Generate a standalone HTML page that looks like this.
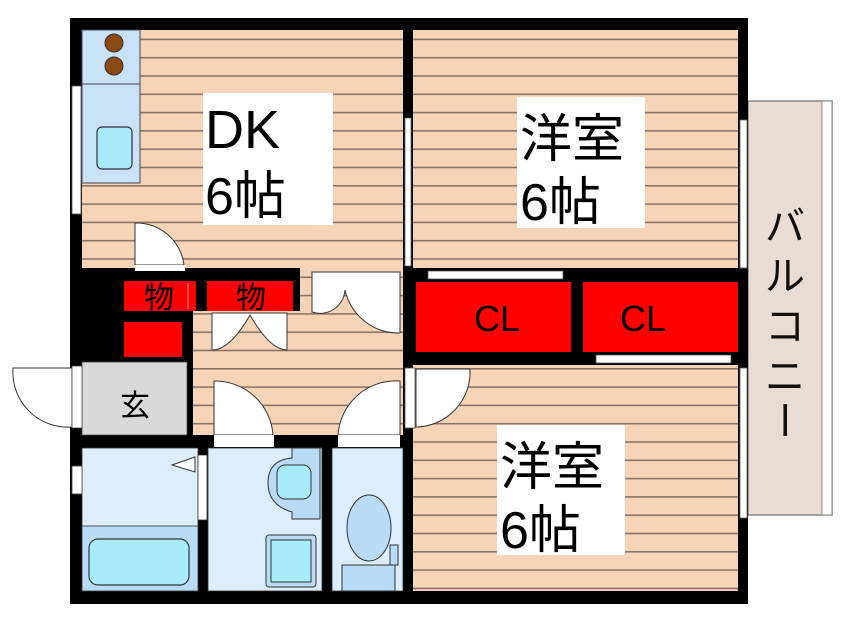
<!DOCTYPE html>
<html><head><meta charset="utf-8"><style>
body{margin:0;background:#fff;width:846px;height:634px;overflow:hidden}
svg text{font-family:"Liberation Sans","Noto Sans CJK JP",sans-serif}
</style></head><body>
<svg width="846" height="634" viewBox="0 0 846 634" xmlns="http://www.w3.org/2000/svg">
<defs>
<pattern id="wood" x="0" y="2" width="10" height="18.3" patternUnits="userSpaceOnUse">
<rect width="10" height="18.3" fill="#f6d4b8"/>
<rect y="0" width="10" height="1.6" fill="#8a7468"/>
</pattern>
</defs>
<rect x="748" y="101" width="84" height="414" fill="#e9ddd3" stroke="#888" stroke-width="1.5"/>
<rect x="822" y="101" width="10" height="414" fill="#fff" stroke="#888" stroke-width="1"/>
<rect x="70" y="18" width="678" height="586" fill="#000"/>
<rect x="82" y="30" width="321" height="238" fill="url(#wood)"/>
<rect x="413" y="30" width="325" height="238" fill="url(#wood)"/>
<rect x="413" y="365" width="325" height="226" fill="url(#wood)"/>
<rect x="193" y="311" width="210" height="124" fill="url(#wood)"/>
<rect x="300" y="268" width="103" height="50" fill="url(#wood)"/>
<rect x="82" y="30" width="58" height="153" fill="#c9e2f6" stroke="#445" stroke-width="1"/>
<line x1="82" y1="84" x2="140" y2="84" stroke="#445"/>
<circle cx="114" cy="43" r="9" fill="#8b4a13" stroke="#333"/>
<circle cx="114" cy="66" r="9" fill="#8b4a13" stroke="#333"/>
<rect x="97" y="127" width="35" height="42" rx="5" fill="#a8ecfb" stroke="#334" stroke-width="1.2"/>
<rect x="72" y="86" width="9" height="128" fill="#fff" stroke="#555" stroke-width="0.8"/>
<rect x="405" y="118" width="6" height="148" fill="#fff" stroke="#666" stroke-width="0.8"/>
<rect x="203" y="93" width="130" height="132" fill="#fff"/>
<text x="205" y="148" font-size="54" fill="#000">DK</text>
<text x="205" y="214" font-size="52" fill="#000">6帖</text>
<rect x="517" y="97" width="128" height="131" fill="#fff"/>
<text x="520" y="157" font-size="52">洋室</text>
<text x="520" y="220" font-size="52">6帖</text>
<rect x="497" y="425" width="128" height="130" fill="#fff"/>
<text x="500" y="485" font-size="52">洋室</text>
<text x="500" y="548" font-size="52">6帖</text>
<path d="M135 265 V223 A48 48 0 0 1 184 265 Z" fill="#fff" stroke="#333"/>
<rect x="135" y="265" width="50" height="6" fill="#fff"/>
<rect x="124" y="281" width="72" height="30" fill="#f00"/>
<line x1="188" y1="283" x2="188" y2="309" stroke="#f99"/>
<rect x="207" y="281" width="86" height="30" fill="#f00"/>
<text x="159" y="308" font-size="30" text-anchor="middle">物</text>
<text x="251" y="308" font-size="30" text-anchor="middle">物</text>
<rect x="124" y="322" width="58" height="35" fill="#f00"/>
<path d="M212 313 H287 V350 Q270 350 250 315 Q230 350 212 350 Z" fill="#fff" stroke="#333"/>
<path d="M312 272 H400 V333 A55 55 0 0 1 345 290 A25 25 0 0 1 312 312 Z" fill="#fff" stroke="#333"/>
<rect x="416" y="282" width="155" height="70" fill="#f00"/>
<rect x="583" y="282" width="155" height="70" fill="#f00"/>
<text x="497" y="331" font-size="36" text-anchor="middle">CL</text>
<text x="643" y="331" font-size="36" text-anchor="middle">CL</text>
<rect x="428" y="271" width="135" height="8" fill="#fff" stroke="#555" stroke-width="0.8"/>
<rect x="596" y="355" width="135" height="8" fill="#fff" stroke="#555" stroke-width="0.8"/>
<rect x="740" y="120" width="7" height="148" fill="#fff" stroke="#666" stroke-width="0.8"/>
<rect x="740" y="368" width="7" height="150" fill="#fff" stroke="#666" stroke-width="0.8"/>
<rect x="405" y="368" width="10" height="60" fill="#fff" stroke="#555" stroke-width="0.8"/>
<path d="M416 369 H470 A55 55 0 0 1 416 427 Z" fill="#fff" stroke="#333"/>
<rect x="82" y="362" width="105" height="73" fill="#d9d9d9" stroke="#444" stroke-width="0.8"/>
<text x="135" y="416" font-size="30" text-anchor="middle">玄</text>
<path d="M72 368 V427 A55 55 0 0 1 13 368 Z" fill="#fff" stroke="#333"/>
<rect x="72" y="366" width="10" height="62" fill="#fff" stroke="#444" stroke-width="0.8"/>
<path d="M214 435 V381 A58 58 0 0 1 273 435 Z" fill="#fff" stroke="#333"/>
<rect x="214" y="435" width="60" height="12" fill="#fff"/>
<path d="M400 435 V381 A58 58 0 0 0 338 435 Z" fill="#fff" stroke="#333"/>
<rect x="338" y="435" width="62" height="12" fill="#fff"/>
<rect x="82" y="448" width="116" height="143" fill="#dcedfb" stroke="#333" stroke-width="0.8"/>
<rect x="82" y="526" width="116" height="65" fill="#b9dbf5" stroke="#333" stroke-width="0.8"/>
<rect x="89" y="539" width="100" height="46" rx="9" fill="#a8ecfb" stroke="#333" stroke-width="1.2"/>
<path d="M195 457 L172 465 L195 472 Z" fill="#fff" stroke="#333"/>
<rect x="198" y="455" width="9" height="65" fill="#fff" stroke="#333" stroke-width="0.8"/>
<rect x="72" y="466" width="10" height="28" fill="#fff" stroke="#444" stroke-width="0.8"/>
<rect x="208" y="448" width="114" height="143" fill="#dcedfb" stroke="#333" stroke-width="0.8"/>
<path d="M292 448 H320 V519 H292 V512 Q268 505 268 483 Q268 460 292 458 Z" fill="#b9dbf5" stroke="#333"/>
<rect x="277" y="465" width="34" height="34" rx="8" fill="#a8ecfb" stroke="#333"/>
<rect x="266" y="535" width="50" height="52" rx="3" fill="#b9dbf5" stroke="#333"/>
<rect x="271" y="540" width="40" height="42" fill="#a8ecfb" stroke="#333"/>
<rect x="332" y="448" width="71" height="143" fill="#dcedfb" stroke="#333" stroke-width="0.8"/>
<ellipse cx="369" cy="528" rx="22" ry="33" fill="#b9dbf5" stroke="#333"/>
<rect x="342" y="565" width="53" height="26" fill="#b9dbf5" stroke="#333"/>
<rect x="390" y="545" width="8" height="20" fill="#b9dbf5" stroke="#333"/>
<g font-size="40" fill="#111">
<text x="765" y="240">バ</text>
<text x="765" y="290">ル</text>
<text x="765" y="340">コ</text>
<text x="765" y="390">ニ</text>
<text x="765" y="435" transform="rotate(90 785 420)">ー</text>
</g>
</svg>
</body></html>
